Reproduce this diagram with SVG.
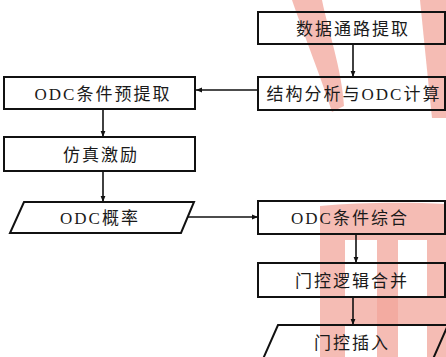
<svg xmlns="http://www.w3.org/2000/svg" width="446" height="357" viewBox="0 0 446 357">
<style>
.box{fill:none;stroke:#111;stroke-width:2}
.t{font-family:"Liberation Serif","Noto Sans CJK SC",serif;font-size:17px;letter-spacing:2px;fill:#1a1a1a;text-anchor:middle;dominant-baseline:central}
.ln{stroke:#111;stroke-width:1.6;fill:none;marker-end:url(#ah)}
.wm{fill:#f2a69b;opacity:0.75}
</style>
<defs>
<marker id="ah" viewBox="0 0 10 10" refX="10" refY="5" markerWidth="6" markerHeight="6" orient="auto" markerUnits="userSpaceOnUse">
<path d="M0,1 L10,5 L0,9 Z" fill="#111"/>
</marker>
</defs>
<rect width="446" height="357" fill="#fff"/>
<g id="watermark">
<path class="wm" d="M292,0 L322,0 C328,30 342,70 344,106 L332,112 C322,80 304,35 292,0 Z"/>
<path class="wm" d="M420,0 L446,0 L446,118 L432,118 C428,80 424,40 420,0 Z"/>
<path class="wm" d="M320,206 C360,202 410,202 446,204 L446,357 L427,357 L427,240 L398,240 L398,357 L377,357 L377,240 L345,240 L345,357 L320,357 Z"/>
<path class="wm" d="M345,297 L427,297 L427,326 L345,326 Z"/>
</g>
<g id="connectors">
<line class="ln" x1="353" y1="44" x2="353" y2="77"/>
<line class="ln" x1="258" y1="90" x2="196" y2="90"/>
<line class="ln" x1="103" y1="109" x2="103" y2="137"/>
<line class="ln" x1="103" y1="171" x2="103" y2="202"/>
<line class="ln" x1="187" y1="217" x2="258" y2="217"/>
<line class="ln" x1="356" y1="234" x2="356" y2="263"/>
<line class="ln" x1="353" y1="297" x2="353" y2="325"/>
</g>
<g id="n1"><rect class="box" x="258" y="12" width="187" height="32"/><text class="t" x="353" y="29">数据通路提取</text></g>
<g id="n2"><rect class="box" x="258" y="77" width="187" height="33"/><text class="t" x="354" y="94">结构分析与ODC计算</text></g>
<g id="n3"><rect class="box" x="4" y="77" width="191" height="32"/><text class="t" x="103" y="94">ODC条件预提取</text></g>
<g id="n4"><rect class="box" x="4" y="137" width="191" height="34"/><text class="t" x="101" y="155">仿真激励</text></g>
<g id="n5"><polygon class="box" points="24,202 194,202 181,233 10,233"/><text class="t" x="100" y="218">ODC概率</text></g>
<g id="n6"><rect class="box" x="258" y="201" width="187" height="33"/><text class="t" x="350" y="218">ODC条件综合</text></g>
<g id="n7"><rect class="box" x="258" y="263" width="187" height="34"/><text class="t" x="352" y="281">门控逻辑合并</text></g>
<g id="n8"><polygon class="box" points="278,325 448,325 433,359 263,359"/><text class="t" x="352" y="343">门控插入</text></g>
</svg>
